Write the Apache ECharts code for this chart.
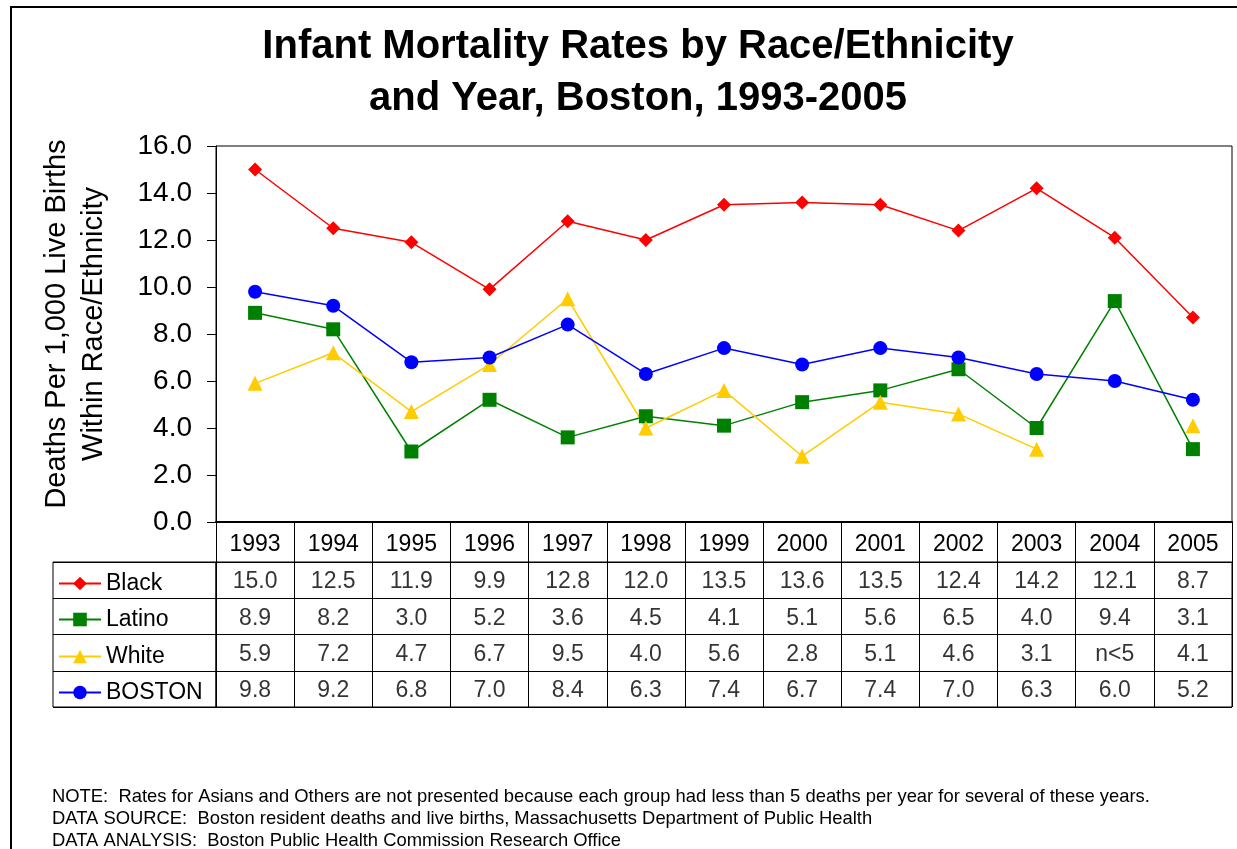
<!DOCTYPE html>
<html>
<head>
<meta charset="utf-8">
<script src="https://cdn.jsdelivr.net/npm/echarts@6/dist/echarts.min.js"></script>
<style>
  html, body { margin: 0; padding: 0; background: #fff; }
  #main { width: 1237px; height: 849px; }
</style>
</head>
<body>
<div id="main"></div>
<script>
var years = ['1993', '1994', '1995', '1996', '1997', '1998', '1999', '2000', '2001', '2002', '2003', '2004', '2005'];
var black = [15.0, 12.5, 11.9, 9.9, 12.8, 12.0, 13.5, 13.6, 13.5, 12.4, 14.2, 12.1, 8.7];
var latino = [8.9, 8.2, 3.0, 5.2, 3.6, 4.5, 4.1, 5.1, 5.6, 6.5, 4.0, 9.4, 3.1];
var white = [5.9, 7.2, 4.7, 6.7, 9.5, 4.0, 5.6, 2.8, 5.1, 4.6, 3.1, null, 4.1];
var boston = [9.8, 9.2, 6.8, 7.0, 8.4, 6.3, 7.4, 6.7, 7.4, 7.0, 6.3, 6.0, 5.2];
var rowNames = ['Black', 'Latino', 'White', 'BOSTON'];
var missingLabel = 'n<5';
var notes = [
    'NOTE:  Rates for Asians and Others are not presented because each group had less than 5 deaths per year for several of these years.',
    'DATA SOURCE:  Boston resident deaths and live births, Massachusetts Department of Public Health',
    'DATA ANALYSIS:  Boston Public Health Commission Research Office'
];

var FONT = 'Arial, "Liberation Sans", sans-serif';

var seriesConf = [
    { name: 'Black', data: black, color: '#ff0000', symbol: 'diamond', size: 14 },
    { name: 'Latino', data: latino, color: '#008000', symbol: 'rect', size: 14 },
    { name: 'White', data: white, color: '#ffcc00', symbol: 'triangle', size: 15 },
    { name: 'BOSTON', data: boston, color: '#0000ff', symbol: 'circle', size: 14 }
];

// table cells (value text under the plot)
var cells = [];
for (var r = 0; r < seriesConf.length; r++) {
    for (var i = 0; i < years.length; i++) {
        var v = seriesConf[r].data[i];
        cells.push([i, rowNames[r], v == null ? missingLabel : v.toFixed(1)]);
    }
}

var series = seriesConf.map(function(s) {
    return {
        type: 'line',
        name: s.name,
        data: s.data,
        xAxisIndex: 0,
        yAxisIndex: 0,
        symbol: s.symbol,
        symbolSize: s.size,
        showAllSymbol: true,
        connectNulls: false,
        color: s.color,
        lineStyle: { width: 1.5, color: s.color },
        itemStyle: { color: s.color },
        emphasis: { disabled: true }
    };
});
series.push({
    type: 'scatter',
    name: 'table',
    xAxisIndex: 1,
    yAxisIndex: 1,
    data: cells,
    symbolSize: 0.1,
    itemStyle: { color: 'transparent' },
    silent: true,
    label: {
        show: true,
        position: 'inside',
        offset: [0, 2],
        formatter: function(p) { return p.value[2]; },
        color: '#000',
        fontSize: 23,
        fontFamily: FONT
    }
});

var rowCenters = [581, 617, 654, 690];
var legends = seriesConf.map(function(s, k) {
    return {
        data: [s.name],
        left: 58,
        top: rowCenters[k] - 9,
        padding: 0,
        itemWidth: 42,
        itemHeight: 17,
        selectedMode: false,
        textStyle: { color: '#000', fontSize: 23, fontFamily: FONT }
    };
});

var chart = echarts.init(document.getElementById('main'));
chart.setOption({
    animation: false,
    backgroundColor: '#fff',
    title: {
        text: 'Infant Mortality Rates by Race/Ethnicity\nand Year, Boston, 1993-2005',
        left: 633,
        textAlign: 'center',
        top: 16,
        textStyle: { fontSize: 40, fontWeight: 'bold', fontFamily: FONT, color: '#000', lineHeight: 52 }
    },
    legend: legends,
    grid: [
        { left: 216, right: 5, top: 146, bottom: 327, show: true, borderColor: '#000', borderWidth: 1, containLabel: false },
        { left: 216, right: 5, top: 562, height: 145, show: true, borderColor: '#000', borderWidth: 1 },
        { left: 53, width: 163, top: 562, height: 145, show: true, borderColor: '#000', borderWidth: 1 }
    ],
    xAxis: [
        {
            type: 'category', gridIndex: 0, data: years, boundaryGap: true,
            axisLine: { lineStyle: { color: '#000', width: 2 } },
            axisTick: { show: true, interval: 0, length: 40, lineStyle: { color: '#000', width: 1 } },
            axisLabel: { interval: 0, margin: 11, color: '#000', fontSize: 23, fontFamily: FONT },
            splitLine: { show: false }
        },
        {
            type: 'category', gridIndex: 1, data: years, boundaryGap: true,
            axisLine: { show: false }, axisTick: { show: false }, axisLabel: { show: false },
            splitLine: { show: true, interval: 0, lineStyle: { color: '#000', width: 1 } }
        },
        {
            type: 'value', gridIndex: 2, show: false
        }
    ],
    yAxis: [
        {
            type: 'value', gridIndex: 0, min: 0, max: 16, interval: 2,
            name: 'Deaths Per 1,000 Live Births\nWithin Race/Ethnicity',
            nameLocation: 'middle',
            nameRotate: 90,
            nameGap: 104,
            nameTextStyle: { color: '#000', fontSize: 29, fontFamily: FONT, lineHeight: 37, padding: [0, 0, 0, 20] },
            axisLine: { show: true, lineStyle: { color: '#000', width: 1 } },
            axisTick: { show: true, length: 9, lineStyle: { color: '#000' } },
            axisLabel: { margin: 24, color: '#000', fontSize: 28, fontFamily: FONT,
                formatter: function(v) { return v.toFixed(1); } },
            splitLine: { show: false }
        },
        {
            type: 'category', gridIndex: 1, data: rowNames, inverse: true,
            axisLine: { show: false }, axisTick: { show: false }, axisLabel: { show: false },
            splitLine: { show: true, interval: 0, lineStyle: { color: '#000', width: 1 } }
        },
        {
            type: 'category', gridIndex: 2, data: rowNames, inverse: true,
            axisLine: { show: false }, axisTick: { show: false }, axisLabel: { show: false },
            splitLine: { show: true, interval: 0, lineStyle: { color: '#000', width: 1 } }
        }
    ],
    graphic: [
        {
            type: 'rect', silent: true,
            shape: { x: 11, y: 7, width: 1260, height: 880 },
            style: { fill: 'none', stroke: '#000', lineWidth: 2 }
        },
        {
            type: 'text', left: 52, top: 786, silent: true,
            style: { text: notes.join('\n'), font: '18.4px ' + FONT, lineHeight: 22, fill: '#000' }
        }
    ],
    series: series
});
</script>
</body>
</html>
